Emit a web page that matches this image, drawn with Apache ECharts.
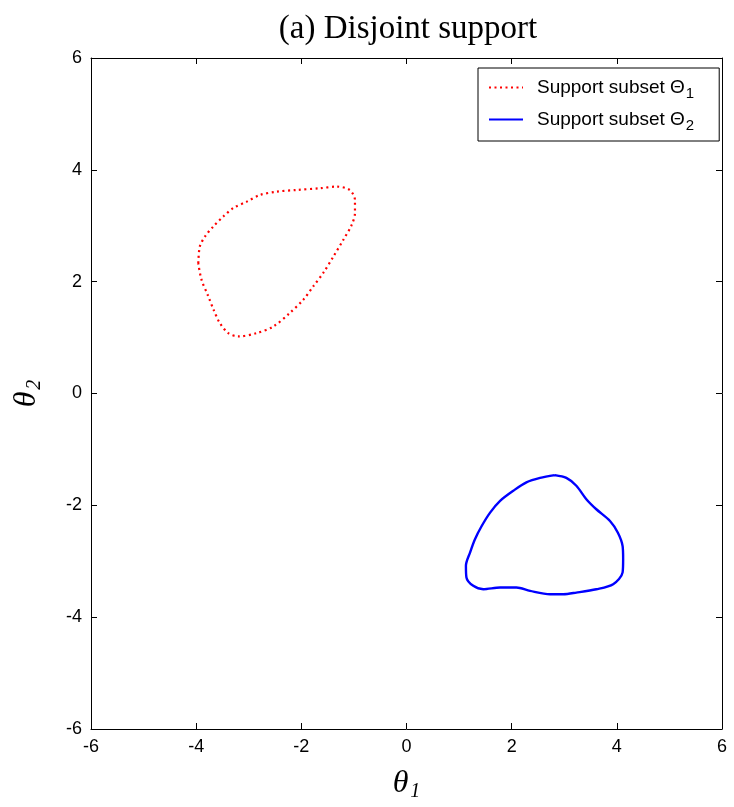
<!DOCTYPE html>
<html>
<head>
<meta charset="utf-8">
<script src="https://cdn.jsdelivr.net/npm/echarts@6/dist/echarts.min.js"></script>
<style>html,body{margin:0;padding:0;background:#fff;}#c{width:734px;height:807px;}</style>
</head>
<body>
<div id="c"></div>
<script>
const xTicks = [-6, -4, -2, 0, 2, 4, 6];
const yTicks = [-6, -4, -2, 0, 2, 4, 6];
const seriesNames = ['Support subset Θ1', 'Support subset Θ2'];
const subset1 = [
  [-3.96, 2.33], [-3.93, 2.63], [-3.83, 2.81], [-3.67, 2.99], [-3.48, 3.17], [-3.29, 3.32],
  [-3.04, 3.43], [-2.79, 3.55], [-2.47, 3.61], [-2.09, 3.64], [-1.65, 3.67], [-1.33, 3.70],
  [-1.08, 3.64], [-0.98, 3.46], [-0.98, 3.23], [-1.04, 3.02], [-1.20, 2.75], [-1.39, 2.45],
  [-1.58, 2.16], [-1.77, 1.92], [-1.96, 1.68], [-2.22, 1.44], [-2.53, 1.20], [-2.85, 1.08],
  [-3.20, 1.02], [-3.39, 1.08], [-3.55, 1.26], [-3.67, 1.50], [-3.77, 1.74], [-3.90, 2.04],
  [-3.96, 2.33]
];
const subset2 = [
  [2.82, -1.46], [3.04, -1.51], [3.23, -1.65], [3.42, -1.89], [3.61, -2.07], [3.87, -2.28],
  [4.02, -2.49], [4.11, -2.73], [4.12, -2.96], [4.11, -3.20], [3.93, -3.41], [3.61, -3.50],
  [3.23, -3.56], [2.98, -3.59], [2.73, -3.59], [2.35, -3.53], [2.09, -3.47], [1.78, -3.47],
  [1.46, -3.50], [1.27, -3.44], [1.14, -3.29], [1.13, -3.08], [1.21, -2.84], [1.30, -2.61],
  [1.43, -2.37], [1.59, -2.13], [1.78, -1.92], [2.03, -1.74], [2.28, -1.59], [2.54, -1.51],
  [2.82, -1.46]
];

const chart = echarts.init(document.getElementById('c'));
const tickFont = {color: '#000', fontFamily: 'Liberation Sans, Arial, sans-serif', fontSize: 18};
const axisNameRich = {
  t: {fontFamily: 'Liberation Serif, Times New Roman, serif', fontStyle: 'italic', fontSize: 32, color: '#000'},
  s: {fontFamily: 'Liberation Serif, Times New Roman, serif', fontStyle: 'italic', fontSize: 20, color: '#000', verticalAlign: 'bottom', padding: [16, 0, 0, 2]}
};
function baseAxis(extra) {
  return Object.assign({
    type: 'value', min: xTicks[0], max: xTicks[xTicks.length - 1], interval: 2,
    axisLine: {show: true, onZero: false, lineStyle: {color: '#000', width: 1}},
    axisTick: {show: true, inside: true, length: 6, lineStyle: {color: '#000'}},
    splitLine: {show: false},
    axisLabel: Object.assign({show: true, margin: 9}, tickFont)
  }, extra);
}
chart.setOption({
  backgroundColor: '#fff',
  animation: false,
  title: {
    text: '(a) Disjoint support', left: 403, textAlign: 'center', top: 8,
    textStyle: {fontFamily: 'Liberation Serif, Times New Roman, serif', fontSize: 33, fontWeight: 'normal', color: '#000'}
  },
  grid: {left: 91, right: 12, top: 58, bottom: 77, containLabel: false},
  legend: {
    orient: 'vertical', left: 478, top: 68,
    padding: [10, 25, 8, 10], itemGap: 9, itemWidth: 34, itemHeight: 14,
    borderColor: '#000', borderWidth: 1, backgroundColor: '#fff',
    data: seriesNames,
    itemStyle: {opacity: 0},
    formatter: function (n) { return 'Support subset Θ{s|' + n.slice(-1) + '}'; },
    textStyle: {
      color: '#000', fontFamily: 'Liberation Sans, Arial, sans-serif', fontSize: 19, padding: [0, 0, 0, 9],
      rich: {s: {fontSize: 15, color: '#000', fontFamily: 'Liberation Sans, Arial, sans-serif', verticalAlign: 'bottom', padding: [12, 0, 0, 1]}}
    }
  },
  xAxis: [
    baseAxis({position: 'bottom', name: '{t|θ}{s|1}', nameLocation: 'middle', nameGap: 37, nameTextStyle: {rich: axisNameRich}}),
    baseAxis({position: 'top', axisLabel: {show: false}})
  ],
  yAxis: [
    baseAxis({position: 'left', min: yTicks[0], max: yTicks[yTicks.length - 1], name: '{t|θ}{s|2}', nameLocation: 'middle', nameGap: 46, nameTextStyle: {rich: axisNameRich}}),
    baseAxis({position: 'right', min: yTicks[0], max: yTicks[yTicks.length - 1], axisLabel: {show: false}})
  ],
  series: [
    {name: seriesNames[0], type: 'line', data: subset1, symbol: 'none', smooth: 0.3,
     lineStyle: {color: '#ff0000', width: 2.2, type: [2, 3.5]}, itemStyle: {color: '#ff0000'}},
    {name: seriesNames[1], type: 'line', data: subset2, symbol: 'none', smooth: 0.3,
     lineStyle: {color: '#0000ff', width: 2.4, type: 'solid'}, itemStyle: {color: '#0000ff'}}
  ]
});
</script>
</body>
</html>
